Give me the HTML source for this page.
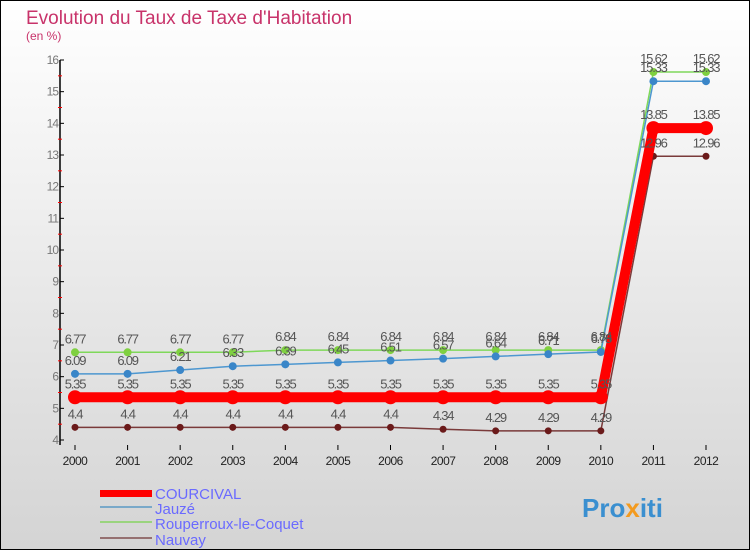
<!DOCTYPE html>
<html><head><meta charset="utf-8"><style>
body{margin:0;width:750px;height:550px;overflow:hidden;font-family:"Liberation Sans",sans-serif}
svg{display:block}
</style></head><body>
<svg id="c" width="750" height="550" xmlns="http://www.w3.org/2000/svg">
<defs><linearGradient id="bg" x1="0" y1="0" x2="0" y2="1"><stop offset="0" stop-color="#ffffff"/><stop offset="1" stop-color="#d4d4d4"/></linearGradient></defs>
<rect x="0.5" y="0.5" width="749" height="549" fill="url(#bg)" stroke="#000"/>
<text x="26" y="24" font-size="19" fill="#c8336a">Evolution du Taux de Taxe d'Habitation</text>
<text x="26" y="40" font-size="12" fill="#c8336a">(en %)</text>
<g id="axes"></g><g id="series"></g><g id="labels"></g>
<g>
<rect x="100" y="490" width="52" height="7" fill="#f00"/>
<text x="155" y="499" font-size="15" fill="#6a6aff">COURCIVAL</text>
<rect x="100" y="506" width="52" height="2" fill="#7aa9c9"/>
<text x="155" y="514" font-size="15" fill="#6a6aff">Jauzé</text>
<rect x="100" y="521" width="52" height="2" fill="#9ad47e"/>
<text x="155" y="529" font-size="15" fill="#6a6aff">Rouperroux-le-Coquet</text>
<rect x="100" y="537" width="52" height="2" fill="#957070"/>
<text x="155" y="545" font-size="15" fill="#6a6aff">Nauvay</text>
</g>
<text x="582" y="517" font-size="26" font-weight="bold" fill="#3a8fd0">Pro<tspan fill="#f39a1e">x</tspan>iti</text>
</svg>
<script>
const years=[2000,2001,2002,2003,2004,2005,2006,2007,2008,2009,2010,2011,2012];
const courcival=[5.35,5.35,5.35,5.35,5.35,5.35,5.35,5.35,5.35,5.35,5.35,13.85,13.85];
const jauze=[6.09,6.09,6.21,6.33,6.39,6.45,6.51,6.57,6.64,6.71,6.78,15.33,15.33];
const rouperroux=[6.77,6.77,6.77,6.77,6.84,6.84,6.84,6.84,6.84,6.84,6.84,15.62,15.62];
const nauvay=[4.4,4.4,4.4,4.4,4.4,4.4,4.4,4.34,4.29,4.29,4.29,12.96,12.96];
const yTicks=[4,5,6,7,8,9,10,11,12,13,14,15,16];
const NS="http://www.w3.org/2000/svg";
const x=i=>75+i*(706-75)/12;
const y=v=>440-(v-4)*(380/12);
function mk(t,a,p){const e=document.createElementNS(NS,t);for(const k in a)e.setAttribute(k,a[k]);p.appendChild(e);return e;}
const ax=document.getElementById('axes'),se=document.getElementById('series'),lb=document.getElementById('labels');
const yl=mk('line',{x1:60,y1:60,x2:60,y2:445,stroke:'#000','stroke-width':1.5},ax);


yTicks.forEach(v=>{
 const t=mk('line',{x1:60,y1:y(v),x2:64,y2:y(v),stroke:'#000'},ax);
 
 
 if(v<16){const m=mk('line',{x1:58,y1:y(v+0.5),x2:62,y2:y(v+0.5),stroke:'#f00'},ax);
 
 }
 const l=mk('text',{x:58,y:y(v)+4,'font-size':12,fill:'#777','text-anchor':'end','letter-spacing':'-1'},ax);l.textContent=v;
 
 
});
years.forEach((yr,i)=>{
 const t=mk('line',{x1:x(i),y1:445,x2:x(i),y2:450,stroke:'#000'},ax);
 
 
 const l=mk('text',{x:x(i),y:465,'font-size':12,fill:'#222','text-anchor':'middle','letter-spacing':'-0.5'},ax);l.textContent=yr;
 
 
});
function series(vals,color,w,r,name,dot){
 const pl=mk('polyline',{points:vals.map((v,i)=>x(i)+','+y(v)).join(' '),fill:'none',stroke:color,'stroke-width':w},se);
 
 
 vals.forEach((v,i)=>{
  const c=mk('circle',{cx:x(i),cy:y(v),r:r,fill:dot},se);
  
  
  const t=mk('text',{x:x(i),y:y(v)-9,'font-size':13,fill:'#555','text-anchor':'middle','letter-spacing':'-1.2'},lb);
  t.textContent=v;
  
  
 });
}
series(nauvay,'#7a3a3a',1.5,3.5,'nauvay','#6b1a1a');
series(rouperroux,'#7fd85a',1.5,4,'rouperroux','#7fd040');
series(jauze,'#4d97d0',1.5,4,'jauze','#3a86c8');
series(courcival,'#f00',10,7,'courcival','#f00');
</script>
</body></html>
